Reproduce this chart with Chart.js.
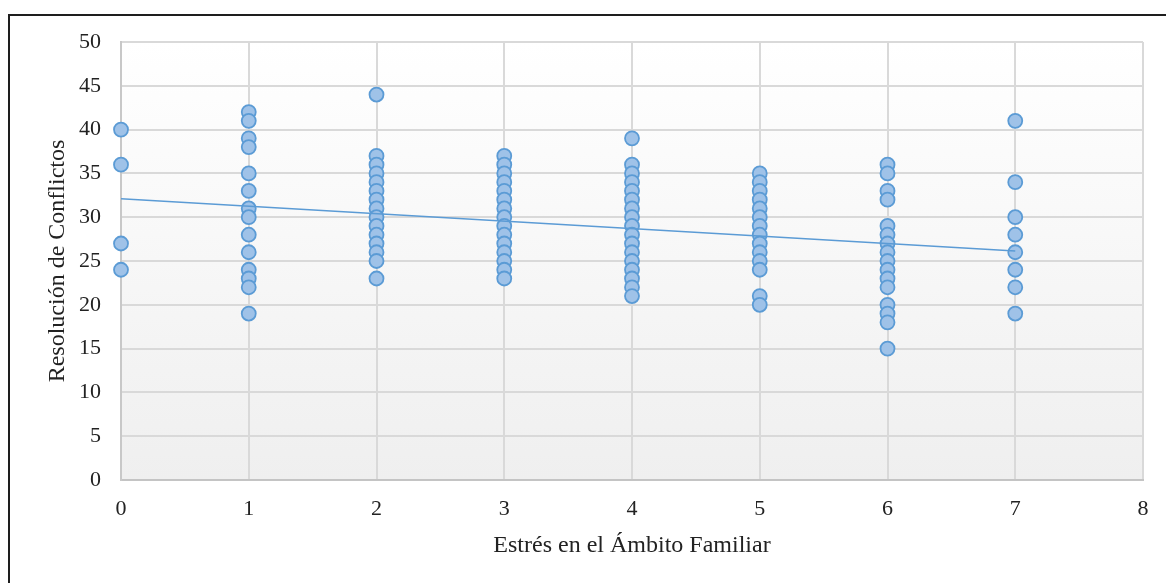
<!DOCTYPE html>
<html>
<head>
<meta charset="utf-8">
<script src="https://cdn.jsdelivr.net/npm/chart.js@4"></script>
<style>
  html, body { margin: 0; padding: 0; background: #ffffff; }
  #wrap { position: relative; width: 1166px; height: 583px; }
</style>
</head>
<body>
<div id="wrap"><canvas id="c" width="1166" height="583"></canvas></div>
<script>
// Resolución de Conflictos observed at each level of family stress
const nivel0 = [40, 36, 27, 24];
const nivel1 = [42, 41, 39, 38, 35, 33, 31, 30, 28, 26, 24, 23, 22, 19];
const nivel2 = [44, 37, 36, 35, 34, 33, 32, 31, 30, 29, 28, 27, 26, 25, 23];
const nivel3 = [37, 36, 35, 34, 33, 32, 31, 30, 29, 28, 27, 26, 25, 24, 23];
const nivel4 = [39, 36, 35, 34, 33, 32, 31, 30, 29, 28, 27, 26, 25, 24, 23, 22, 21];
const nivel5 = [35, 34, 33, 32, 31, 30, 29, 28, 27, 26, 25, 24, 21, 20];
const nivel6 = [36, 35, 33, 32, 29, 28, 27, 26, 25, 24, 23, 22, 20, 19, 18, 15];
const nivel7 = [41, 34, 30, 28, 26, 24, 22, 19];
const niveles = [nivel0, nivel1, nivel2, nivel3, nivel4, nivel5, nivel6, nivel7];

// Linear trend line end points
const tendenciaX = [0, 7];
const tendenciaY = [32.1, 26.15];

const ticksX = [0, 1, 2, 3, 4, 5, 6, 7, 8];
const ticksY = [0, 5, 10, 15, 20, 25, 30, 35, 40, 45, 50];

const puntos = [];
niveles.forEach((valores, x) => valores.forEach(y => puntos.push({ x: x, y: y })));
const tendencia = tendenciaX.map((x, i) => ({ x: x, y: tendenciaY[i] }));

const serif = "'Liberation Serif', 'Times New Roman', serif";

// Plot background gradient and the outer frame
const fondo = {
  id: 'fondo',
  beforeDraw(chart) {
    const { ctx, chartArea: a } = chart;
    const g = ctx.createLinearGradient(0, a.top, 0, a.bottom);
    g.addColorStop(0, '#ffffff');
    g.addColorStop(1, '#efefef');
    ctx.save();
    ctx.fillStyle = g;
    ctx.fillRect(a.left, a.top, a.right - a.left, a.bottom - a.top);
    ctx.restore();
  },
  afterDraw(chart) {
    const ctx = chart.ctx;
    ctx.save();
    ctx.strokeStyle = '#1e1e1e';
    ctx.lineWidth = 2;
    ctx.beginPath();
    ctx.moveTo(9, 583);
    ctx.lineTo(9, 15);
    ctx.lineTo(1166, 15);
    ctx.stroke();
    ctx.restore();
  }
};

new Chart(document.getElementById('c'), {
  type: 'scatter',
  data: {
    datasets: [
      {
        type: 'line',
        label: 'Lineal',
        data: tendencia,
        borderColor: '#5b9bd5',
        borderWidth: 1.6,
        pointRadius: 0,
        fill: false,
        order: 0
      },
      {
        label: 'Resolución de Conflictos',
        data: puntos,
        backgroundColor: '#9fc2e8',
        borderColor: '#5b9bd5',
        borderWidth: 1.8,
        pointRadius: 7,
        clip: false,
        order: 1
      }
    ]
  },
  options: {
    responsive: false,
    animation: false,
    layout: { padding: { left: 0, top: 42, right: 23, bottom: 0 } },
    plugins: { legend: { display: false }, tooltip: { enabled: false } },
    scales: {
      x: {
        type: 'linear',
        min: 0,
        max: 8,
        afterBuildTicks(scale) { scale.ticks = ticksX.map(v => ({ value: v })); },
        afterFit(scale) { scale.height = 103; },
        grid: { color: '#d9d9d9', lineWidth: 2, drawTicks: false },
        border: { color: '#c4c4c4', width: 2 },
        ticks: { color: '#222', font: { family: serif, size: 22 }, padding: 16 },
        title: {
          display: true,
          text: 'Estrés en el Ámbito Familiar',
          color: '#222',
          font: { family: serif, size: 24 },
          padding: { top: 0, bottom: 23 }
        }
      },
      y: {
        type: 'linear',
        min: 0,
        max: 50,
        afterBuildTicks(scale) { scale.ticks = ticksY.map(v => ({ value: v })); },
        afterFit(scale) { scale.width = 121; },
        grid: { color: '#d9d9d9', lineWidth: 2, drawTicks: false },
        border: { color: '#c8c8c8', width: 2 },
        ticks: { color: '#222', font: { family: serif, size: 22 }, padding: 20 },
        title: {
          display: true,
          text: 'Resolución de Conflictos',
          color: '#222',
          font: { family: serif, size: 24 },
          padding: { top: 43, bottom: 0 }
        }
      }
    }
  },
  plugins: [fondo]
});
</script>
</body>
</html>
